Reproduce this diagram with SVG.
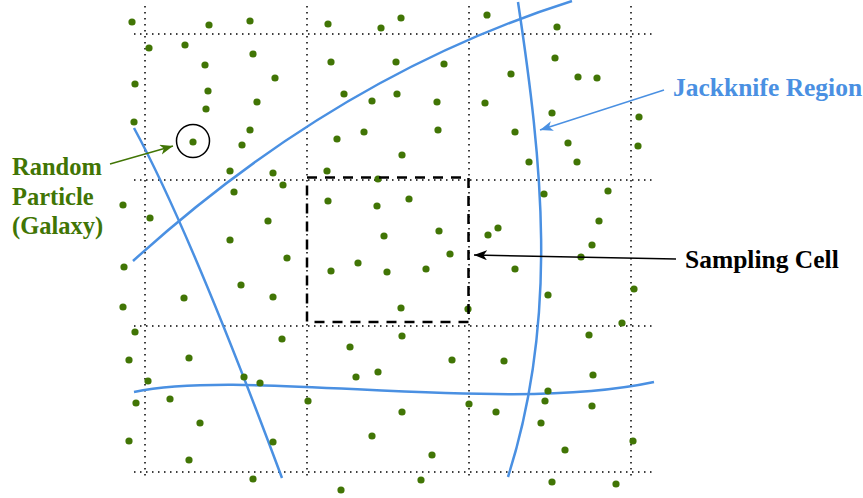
<svg xmlns="http://www.w3.org/2000/svg" width="863" height="498" viewBox="0 0 863 498">
<style>
.grid{stroke:#000;stroke-width:1.5;stroke-dasharray:1.5 4.5;fill:none}
.region{stroke:#4A90E2;stroke-width:2.5;fill:none}
.dot{fill:#417505}
.lbl{font-family:"Liberation Serif","Times New Roman",serif;font-weight:bold;font-size:25.5px}
.lbl-left{font-size:24.5px}
</style>
<defs>
<marker id="arrBlack" markerUnits="userSpaceOnUse" markerWidth="14" markerHeight="11" refX="13" refY="5" orient="auto"><path d="M0,0 L13,5 L0,10 L3.5,5 Z" fill="#000"/></marker>
<marker id="arrBlue" markerUnits="userSpaceOnUse" markerWidth="14" markerHeight="11" refX="13" refY="5" orient="auto"><path d="M0,0 L13,5 L0,10 L3.5,5 Z" fill="#4A90E2"/></marker>
<marker id="arrGreen" markerUnits="userSpaceOnUse" markerWidth="14" markerHeight="11" refX="13" refY="5" orient="auto"><path d="M0,0 L13,5 L0,10 L3.5,5 Z" fill="#417505"/></marker>
</defs>
<rect width="863" height="498" fill="#fff"/>
<g id="grid" class="grid">
<line x1="145" y1="6" x2="145" y2="477"/>
<line x1="307" y1="6" x2="307" y2="477"/>
<line x1="469" y1="6" x2="469" y2="477"/>
<line x1="631" y1="6" x2="631" y2="477"/>
<line x1="134" y1="34" x2="655" y2="34"/>
<line x1="134" y1="180" x2="655" y2="180"/>
<line x1="134" y1="326" x2="655" y2="326"/>
<line x1="134" y1="472" x2="655" y2="472"/>
</g>
<g id="jackknife-regions" class="region">
<path d="M133,261 Q338,75 572,1"/>
<path d="M134,128 Q190,231 282,478"/>
<path d="M518,2 C542,162 559,317 508,477"/>
<path d="M134,392 C250,368 500,415 654,382"/>
</g>
<g id="particles" class="dot">
<circle cx="132" cy="22" r="3.6"/><circle cx="209" cy="25" r="3.6"/><circle cx="250" cy="21" r="3.6"/>
<circle cx="149" cy="48" r="3.6"/><circle cx="185" cy="45" r="3.6"/><circle cx="253" cy="54" r="3.6"/>
<circle cx="205" cy="65" r="3.6"/><circle cx="135" cy="84" r="3.6"/><circle cx="275" cy="78" r="3.6"/>
<circle cx="208" cy="91" r="3.6"/><circle cx="257" cy="102" r="3.6"/><circle cx="206" cy="109" r="3.6"/>
<circle cx="134" cy="122" r="3.6"/><circle cx="250" cy="130" r="3.6"/><circle cx="193" cy="142" r="3.6"/>
<circle cx="242" cy="145" r="3.6"/>
<circle cx="328" cy="24" r="3.6"/><circle cx="381" cy="28" r="3.6"/><circle cx="401" cy="18" r="3.6"/>
<circle cx="487" cy="15" r="3.6"/><circle cx="331" cy="62" r="3.6"/><circle cx="396" cy="62" r="3.6"/>
<circle cx="444" cy="64" r="3.6"/><circle cx="344" cy="94" r="3.6"/><circle cx="372" cy="101" r="3.6"/>
<circle cx="397" cy="94" r="3.6"/><circle cx="437" cy="102" r="3.6"/><circle cx="485" cy="103" r="3.6"/>
<circle cx="337" cy="139" r="3.6"/><circle cx="364" cy="132" r="3.6"/><circle cx="438" cy="130" r="3.6"/>
<circle cx="402" cy="155" r="3.6"/>
<circle cx="557" cy="27" r="3.6"/><circle cx="555" cy="58" r="3.6"/><circle cx="511" cy="74" r="3.6"/>
<circle cx="578" cy="77" r="3.6"/><circle cx="597" cy="78" r="3.6"/><circle cx="552" cy="113" r="3.6"/>
<circle cx="639" cy="117" r="3.6"/><circle cx="515" cy="132" r="3.6"/><circle cx="568" cy="143" r="3.6"/>
<circle cx="638" cy="146" r="3.6"/><circle cx="529" cy="162" r="3.6"/><circle cx="577" cy="162" r="3.6"/>
<circle cx="230" cy="171" r="3.6"/><circle cx="273" cy="173" r="3.6"/><circle cx="123" cy="205" r="3.6"/>
<circle cx="234" cy="192" r="3.6"/><circle cx="283" cy="185" r="3.6"/><circle cx="150" cy="218" r="3.6"/>
<circle cx="268" cy="221" r="3.6"/><circle cx="230" cy="240" r="3.6"/><circle cx="124" cy="267" r="3.6"/>
<circle cx="287" cy="258" r="3.6"/><circle cx="241" cy="285" r="3.6"/><circle cx="184" cy="298" r="3.6"/>
<circle cx="273" cy="297" r="3.6"/><circle cx="123" cy="307" r="3.6"/><circle cx="135" cy="332" r="3.6"/>
<circle cx="327" cy="171" r="3.6"/><circle cx="378" cy="179" r="3.6"/><circle cx="328" cy="201" r="3.6"/>
<circle cx="377" cy="206" r="3.6"/><circle cx="409" cy="199" r="3.6"/><circle cx="384" cy="236" r="3.6"/>
<circle cx="439" cy="231" r="3.6"/><circle cx="450" cy="254" r="3.6"/><circle cx="331" cy="271" r="3.6"/>
<circle cx="358" cy="263" r="3.6"/><circle cx="387" cy="272" r="3.6"/><circle cx="426" cy="269" r="3.6"/>
<circle cx="401" cy="308" r="3.6"/><circle cx="468" cy="309" r="3.6"/>
<circle cx="608" cy="191" r="3.6"/><circle cx="544" cy="194" r="3.6"/><circle cx="498" cy="228" r="3.6"/>
<circle cx="488" cy="235" r="3.6"/><circle cx="599" cy="221" r="3.6"/><circle cx="592" cy="245" r="3.6"/>
<circle cx="581" cy="257" r="3.6"/><circle cx="515" cy="269" r="3.6"/><circle cx="548" cy="295" r="3.6"/>
<circle cx="634" cy="289" r="3.6"/><circle cx="622" cy="323" r="3.6"/>
<circle cx="282" cy="339" r="3.6"/><circle cx="129" cy="360" r="3.6"/><circle cx="189" cy="358" r="3.6"/>
<circle cx="148" cy="381" r="3.6"/><circle cx="244" cy="377" r="3.6"/><circle cx="260" cy="383" r="3.6"/>
<circle cx="136" cy="403" r="3.6"/><circle cx="170" cy="399" r="3.6"/><circle cx="200" cy="423" r="3.6"/>
<circle cx="129" cy="441" r="3.6"/><circle cx="273" cy="442" r="3.6"/><circle cx="189" cy="460" r="3.6"/>
<circle cx="253" cy="479" r="3.6"/>
<circle cx="402" cy="336" r="3.6"/><circle cx="350" cy="347" r="3.6"/><circle cx="452" cy="360" r="3.6"/>
<circle cx="356" cy="377" r="3.6"/><circle cx="378" cy="372" r="3.6"/><circle cx="308" cy="401" r="3.6"/>
<circle cx="402" cy="412" r="3.6"/><circle cx="469" cy="404" r="3.6"/><circle cx="372" cy="436" r="3.6"/>
<circle cx="432" cy="455" r="3.6"/><circle cx="421" cy="480" r="3.6"/><circle cx="341" cy="490" r="3.6"/>
<circle cx="589" cy="335" r="3.6"/><circle cx="504" cy="361" r="3.6"/><circle cx="593" cy="375" r="3.6"/>
<circle cx="548" cy="391" r="3.6"/><circle cx="545" cy="401" r="3.6"/><circle cx="496" cy="412" r="3.6"/>
<circle cx="592" cy="406" r="3.6"/><circle cx="541" cy="423" r="3.6"/><circle cx="633" cy="441" r="3.6"/>
<circle cx="565" cy="450" r="3.6"/><circle cx="552" cy="482" r="3.6"/><circle cx="616" cy="484" r="3.6"/>
</g>
<g id="sampling-cell">
<rect x="307" y="177.5" width="161.5" height="144.5" fill="none" stroke="#000" stroke-width="2.5" stroke-dasharray="10 8"/>
</g>
<g id="particle-highlight">
<circle cx="193" cy="141" r="16.5" fill="none" stroke="#000" stroke-width="1.5"/>
</g>
<g id="connectors" fill="none" stroke-width="1.5">
<line x1="676" y1="259" x2="474" y2="255" stroke="#000" marker-end="url(#arrBlack)"/>
<line x1="664" y1="90" x2="540" y2="130" stroke="#4A90E2" marker-end="url(#arrBlue)"/>
<line x1="110" y1="164" x2="173" y2="146" stroke="#417505" marker-end="url(#arrGreen)"/>
</g>
<g id="label-particle" class="lbl lbl-left" fill="#417505">
<text x="12" y="175">Random</text>
<text x="12" y="205">Particle</text>
<text x="12" y="234">(Galaxy)</text>
</g>
<g id="label-jackknife" class="lbl" fill="#4A90E2">
<text x="673" y="96">Jackknife Region</text>
</g>
<g id="label-sampling" class="lbl" fill="#000">
<text x="685" y="268">Sampling Cell</text>
</g>
</svg>
